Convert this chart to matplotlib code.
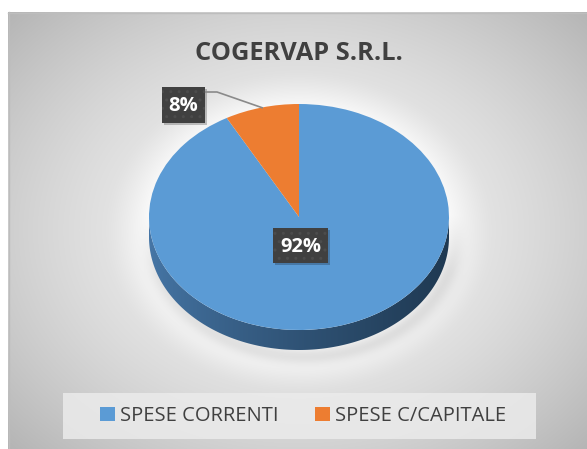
import numpy as np
import matplotlib.pyplot as plt
from matplotlib.patches import Rectangle, Polygon

plt.rcParams['font.family'] = ['Open Sans', 'DejaVu Sans']
plt.rcParams['hatch.color'] = '#4c4c4c'
plt.rcParams['hatch.linewidth'] = 1.0

# data
categories = ['SPESE CORRENTI', 'SPESE C/CAPITALE']
values = [92, 8]
colors = ['#5b9bd5', '#ed7d31']
title = 'COGERVAP S.R.L.'

W, H = 587, 449
fig = plt.figure(figsize=(W / 100, H / 100), dpi=100)

# background: grey radial gradient with a soft glow around the pie
bg = fig.add_axes([0, 0, 1, 1])
bg.set_xlim(0, W)
bg.set_ylim(H, 0)
bg.axis('off')
yy, xx = np.mgrid[12:H, 8:W] + 0.5
r = np.sqrt(((xx - 299) / 330) ** 2 + ((yy - 230) / 260) ** 2)
v = 246 - 48 * np.clip(r, 0, 1.25) ** 1.6
de = np.sqrt(((xx - 299) / 150) ** 2 + ((yy - 232) / 124) ** 2)
halo = np.clip(1 - (de - 1) / 0.3, 0, 1) ** 1.5
v = v + (250 - v) * halo
ds = np.sqrt(((xx - 304) / 150) ** 2 + ((yy - 238) / 118) ** 2)
fade = np.clip((yy - 215) / 60, 0, 1)
shade = np.exp(-((ds - 1.0) / 0.07) ** 2) * fade
v = v - 25 * shade
img = np.clip(v, 0, 255)[..., None].repeat(3, axis=2) / 255
bg.imshow(img, extent=(8, W, H, 12), interpolation='bilinear', aspect='auto')
bg.plot([8.5, 8.5], [12, H], color='#bdbdbd', lw=1)
bg.plot([8, W], [12.5, 12.5], color='#bdbdbd', lw=1)

# pie (ellipse through non-equal axes scaling)
depth = 20 / 113
pax = fig.add_axes([149 / W, 1 - 350 / H, 300 / W, 246 / H])

t = np.linspace(np.pi, 2 * np.pi, 200)
side_pts = np.concatenate([np.c_[np.cos(t), np.sin(t)],
                           np.c_[np.cos(t[::-1]), np.sin(t[::-1]) - depth]])
side = Polygon(side_pts, closed=True, facecolor='none', edgecolor='none')
pax.add_patch(side)
grad = np.linspace(0, 1, 256)
c0 = np.array([0x46, 0x76, 0xa6]) / 255
c1 = np.array([0x1f, 0x39, 0x52]) / 255
gimg = (c0[None, :] * (1 - grad[:, None] ** 0.8) + c1[None, :] * grad[:, None] ** 0.8)[None, :, :]
im = pax.imshow(gimg, extent=(-1, 1, -1 - depth, 0), aspect='auto',
                interpolation='bilinear', zorder=1)
im.set_clip_path(side)

wedges, _ = pax.pie(values, colors=colors, startangle=90, counterclock=False,
                    radius=1, center=(0, 0), frame=True,
                    wedgeprops=dict(linewidth=0, zorder=2))
pax.set_aspect('auto')
pax.set_xlim(-1, 1)
pax.set_ylim(-1 - depth, 1)
pax.axis('off')

# overlay for text, labels, legend
ov = fig.add_axes([0, 0, 1, 1])
ov.set_xlim(0, W)
ov.set_ylim(H, 0)
ov.axis('off')
ov.patch.set_alpha(0)

ov.text(299, 60, title, ha='center', va='baseline', fontsize=18.3,
        fontweight='bold', color='#404040')

total = sum(values)
label_boxes = [(273, 228, 55, 35), (162, 87, 43, 36)]
for (bx, by, bw, bh), val in zip(label_boxes, values):
    ov.add_patch(Rectangle((bx + 2, by + 2), bw, bh, facecolor='black',
                           alpha=0.22, lw=0))
    ov.add_patch(Rectangle((bx, by), bw, bh, facecolor='#404040', lw=0,
                           hatch='..'))
    ov.text(bx + bw / 2, by + bh / 2 + 1, f'{val / total:.0%}', ha='center',
            va='center', fontsize=14.5, fontweight='bold', color='white')

ov.plot([205, 217, 263], [92, 92, 108], color='#8a8a8a', lw=1.2,
        solid_capstyle='butt')

# legend
ov.add_patch(Rectangle((63, 393), 473, 46, facecolor='#ebebeb', lw=0,
                       alpha=0.85))
leg = ov.legend(wedges, categories, loc='center', ncol=2,
                bbox_to_anchor=(303 / W, 1 - 416 / H),
                bbox_transform=fig.transFigure, frameon=False,
                fontsize=14.5, handlelength=0.75, handleheight=0.75,
                handletextpad=0.25, columnspacing=1.8, borderpad=0)
for txt in leg.get_texts():
    txt.set_color('#404040')

fig.savefig('out.png', dpi=100)
